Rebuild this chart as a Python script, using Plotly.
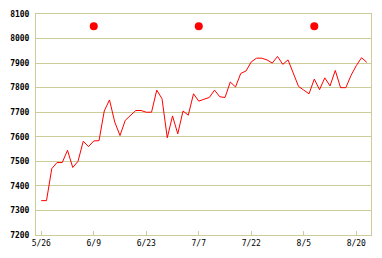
import plotly.graph_objects as go

# Trading-day index series (63 sessions)
values = [7340, 7340, 7470, 7495, 7495, 7545, 7475, 7500, 7582, 7560,
          7583, 7584, 7705, 7750, 7660, 7605, 7667, 7689, 7707, 7707,
          7700, 7700, 7790, 7755, 7596, 7685, 7612, 7705, 7688, 7775,
          7745, 7753, 7760, 7790, 7763, 7760, 7823, 7803, 7858, 7868,
          7905, 7920, 7920, 7913, 7900, 7927, 7895, 7913, 7860, 7805,
          7790, 7775, 7835, 7792, 7840, 7807, 7870, 7800, 7800, 7850,
          7890, 7922, 7903]
x_idx = list(range(len(values)))

tick_idx = [0, 10, 20, 30, 40, 50, 60]
tick_labels = ["5/26", "6/9", "6/23", "7/7", "7/22", "8/5", "8/20"]

marker_idx = [10, 30, 52]
marker_vals = [8050, 8050, 8050]

grid_col = "#cccc99"
yfont = dict(family="DejaVu Sans Mono", size=8, color="#000000", weight="bold")
xfont = dict(family="DejaVu Sans Mono", size=8, color="#000000")

fig = go.Figure()
fig.add_trace(go.Scatter(x=x_idx, y=values, mode="lines",
                         line=dict(color="#ff0000", width=1),
                         showlegend=False, hoverinfo="skip"))
fig.add_trace(go.Scatter(x=marker_idx, y=marker_vals, mode="markers",
                         marker=dict(color="#ff0000", size=8),
                         showlegend=False, hoverinfo="skip"))

fig.update_layout(
    width=382, height=258,
    margin=dict(l=34, r=11, t=10, b=23),
    paper_bgcolor="white", plot_bgcolor="white",
    font=dict(family="DejaVu Sans Mono", size=8, color="#000000"),
    xaxis=dict(range=[-1, 62.8], tickmode="array", tickvals=tick_idx,
               ticktext=tick_labels, showgrid=False, zeroline=False,
               showline=True, linecolor=grid_col, linewidth=1, mirror=True,
               ticks="inside", ticklen=4, tickcolor=grid_col, tickwidth=1,
               tickfont=xfont),
    yaxis=dict(range=[7200, 8100], tickmode="array",
               tickvals=list(range(7200, 8101, 100)),
               showgrid=True, gridcolor=grid_col, gridwidth=1, zeroline=False,
               showline=True, linecolor=grid_col, linewidth=1, mirror=True,
               ticks="", ticklabelstandoff=4,
               tickfont=yfont),
)

fig.write_html("out.html")
